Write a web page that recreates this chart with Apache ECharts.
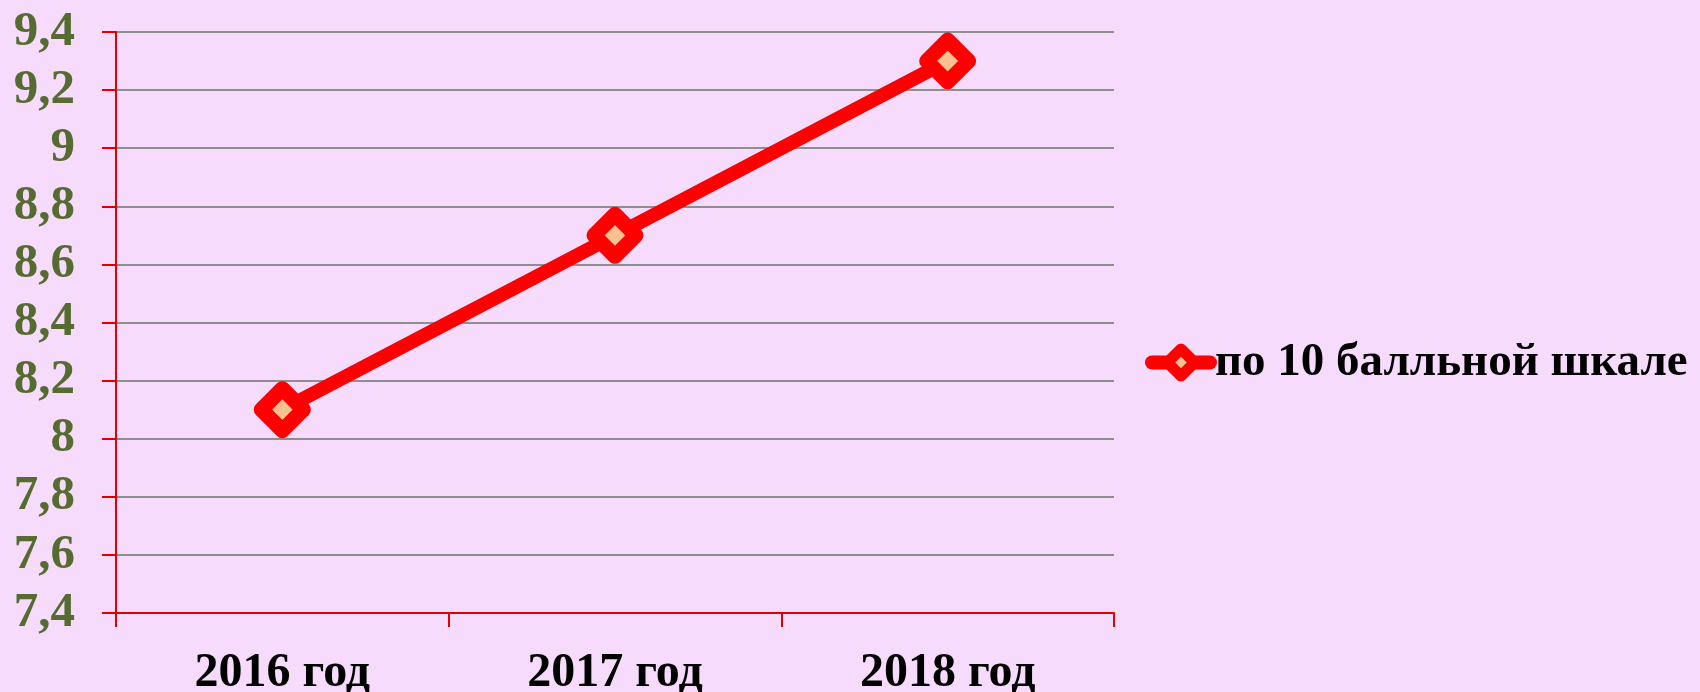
<!DOCTYPE html>
<html>
<head>
<meta charset="utf-8">
<script src="https://cdn.jsdelivr.net/npm/echarts@6/dist/echarts.min.js"></script>
<style>
  html, body { margin: 0; padding: 0; background: #f6dbfd; }
  #chart { width: 1700px; height: 692px; }
</style>
</head>
<body>
<div id="chart"></div>
<script>
  // данные
  const years = ["2016 год", "2017 год", "2018 год"];
  const scores = [8.1, 8.7, 9.3];
  const seriesName = "по 10 балльной шкале";

  const chart = echarts.init(document.getElementById("chart"));
  const option = {
    backgroundColor: "#f6dbfd",
    animation: false,
    grid: { left: 116, top: 32, right: 586, bottom: 79, outerBoundsMode: "none" },
    legend: {
      data: [{
        name: seriesName,
        itemStyle: { color: "#fbc08f", borderColor: "#ff0000", borderWidth: 11, borderJoin: "round" },
        lineStyle: { color: "#ff0000", width: 14, cap: "round" }
      }],
      left: 1140,
      top: 334,
      itemWidth: 58,
      itemHeight: 34,
      textStyle: {
        fontFamily: "Liberation Serif",
        fontWeight: "bold",
        fontSize: 47,
        color: "#000"
      }
    },
    xAxis: {
      type: "category",
      data: years,
      boundaryGap: true,
      axisLine: { lineStyle: { color: "#e00000", width: 2 } },
      axisTick: { show: true, length: 14, lineStyle: { color: "#e00000", width: 2 } },
      axisLabel: {
        margin: 37,
        fontFamily: "Liberation Serif",
        fontWeight: "bold",
        fontSize: 48,
        color: "#000"
      }
    },
    yAxis: {
      type: "value",
      min: 7.4,
      max: 9.4,
      interval: 0.2,
      axisLine: { show: true, lineStyle: { color: "#e00000", width: 2 } },
      axisTick: { show: true, length: 14, lineStyle: { color: "#e00000", width: 2 } },
      splitLine: { lineStyle: { color: "#8e8e8e", width: 2 } },
      axisLabel: {
        margin: 41,
        fontFamily: "Liberation Serif",
        fontWeight: "bold",
        fontSize: 49,
        color: "#556b2f",
        formatter: v => String(Math.round(v * 10) / 10).replace(".", ",")
      }
    },
    series: [{
      name: seriesName,
      type: "line",
      data: scores,
      symbol: "diamond",
      symbolSize: [42, 42],
      lineStyle: { color: "#ff0000", width: 14 },
      itemStyle: {
        color: "#fbc08f",
        borderColor: "#ff0000",
        borderWidth: 15,
        borderJoin: "round"
      }
    }]
  };
  chart.setOption(option);
</script>
</body>
</html>
